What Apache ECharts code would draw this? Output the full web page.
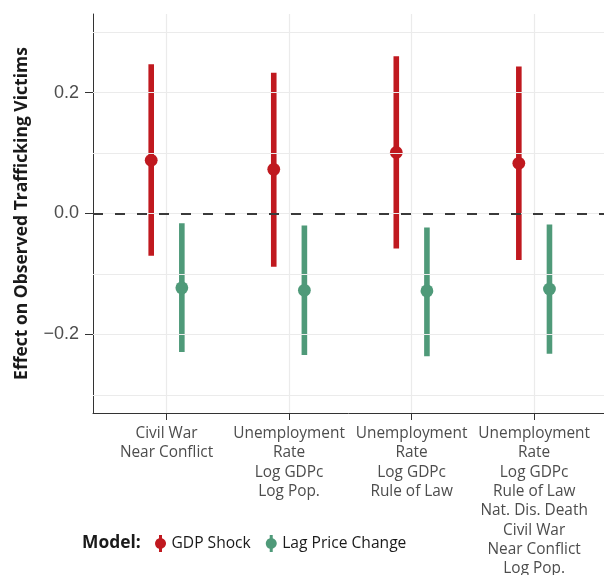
<!DOCTYPE html>
<html>
<head>
<meta charset="utf-8">
<script src="https://cdn.jsdelivr.net/npm/echarts@6/dist/echarts.min.js"></script>
<style>html,body{margin:0;padding:0;background:#fff;}#c{width:604px;height:575px;}</style>
</head>
<body>
<div id="c"></div>
<script>
// ---- data ----
const categories = [
  "Civil War\nNear Conflict",
  "Unemployment\nRate\nLog GDPc\nLog Pop.",
  "Unemployment\nRate\nLog GDPc\nRule of Law",
  "Unemployment\nRate\nLog GDPc\nRule of Law\nNat. Dis. Death\nCivil War\nNear Conflict\nLog Pop."
];
const gdpEst  = [0.088, 0.073, 0.101, 0.083];
const gdpLow  = [-0.070, -0.088, -0.058, -0.077];
const gdpHigh = [0.247, 0.233, 0.260, 0.243];
const lagEst  = [-0.123, -0.127, -0.128, -0.125];
const lagLow  = [-0.229, -0.234, -0.236, -0.232];
const lagHigh = [-0.016, -0.020, -0.023, -0.018];
const yTickLabels = [-0.2, 0, 0.2];
const yGridValues = [-0.3, -0.2, -0.1, 0, 0.1, 0.2, 0.3];
const seriesNames = ["GDP Shock", "Lag Price Change"];

// ---- style ----
const RED = "#C0191F", GREEN = "#4F9A79";
const DODGE = 0.125;
const catPos = categories.map((_, i) => i + 1);

const chart = echarts.init(document.getElementById('c'), null, {renderer: 'canvas'});

function barData(low, high, off) {
  return catPos.map((p, i) => [p + off, low[i], high[i]]);
}
function ptData(est, off) {
  return catPos.map((p, i) => [p + off, est[i]]);
}
function errRender(color) {
  return function (params, api) {
    const a = api.coord([api.value(0), api.value(1)]);
    const b = api.coord([api.value(0), api.value(2)]);
    return {
      type: 'line',
      shape: {x1: a[0], y1: a[1], x2: b[0], y2: b[1]},
      style: {stroke: color, lineWidth: 5.6, lineCap: 'butt'}
    };
  };
}
const icon = 'path://M4.5,0 L7.5,0 L7.5,3.21 A5.5,5.5 0 0 1 7.5,13.79 L7.5,17 L4.5,17 L4.5,13.79 A5.5,5.5 0 0 1 4.5,3.21 Z';

const option = {
  animation: false,
  backgroundColor: '#fff',
  grid: {left: 93, right: 0, top: 14, bottom: 162, containLabel: false, outerBoundsMode: 'none'},
  xAxis: {
    type: 'value', min: 0.4, max: 4.57,
    splitLine: {show: false},
    axisLine: {onZero: false, lineStyle: {color: '#333', width: 1}},
    axisTick: {show: true, customValues: catPos, length: 7, lineStyle: {color: '#333', width: 1}},
    axisLabel: {
      customValues: catPos, margin: 11,
      formatter: v => categories[Math.round(v) - 1],
      color: '#4d4d4d', fontFamily: 'Open Sans', fontSize: 15.4, lineHeight: 19.3, align: 'center'
    }
  },
  yAxis: {
    type: 'value', min: -0.33, max: 0.33,
    splitLine: {show: false},
    axisLine: {show: true, onZero: false, lineStyle: {color: '#333', width: 1}},
    axisTick: {show: true, customValues: yTickLabels, length: 8, lineStyle: {color: '#333', width: 1}},
    axisLabel: {
      customValues: yTickLabels, margin: 14,
      formatter: v => (v < 0 ? '\u2212' : '') + Math.abs(v).toFixed(1),
      color: '#4d4d4d', fontFamily: 'Liberation Sans', fontSize: 18
    },
    name: 'Effect on Observed Trafficking Victims',
    nameLocation: 'middle', nameRotate: 90, nameGap: 62,
    nameTextStyle: {fontFamily: 'Open Sans', fontWeight: 'bold', fontSize: 17.5, color: '#1a1a1a'}
  },
  legend: {
    data: seriesNames.map((n, i) => ({name: n, icon: icon, itemStyle: {color: i ? GREEN : RED}})),
    left: 155, top: 535, padding: 0, itemWidth: 12, itemHeight: 17, itemGap: 15,
    textStyle: {fontFamily: 'Open Sans', fontSize: 15.6, color: '#1a1a1a'},
    selectedMode: false
  },
  graphic: [{
    type: 'text', left: 82, top: 535,
    style: {text: 'Model:', fontFamily: 'Open Sans', fontWeight: 'bold', fontSize: 17.4, fill: '#1a1a1a'}
  }],
  series: [
    {
      type: 'line', data: [], silent: true, z: 0,
      markLine: {
        silent: true, symbol: ['none', 'none'], label: {show: false},
        lineStyle: {color: '#ebebeb', width: 1.2, type: 'solid'},
        data: yGridValues.map(v => ({yAxis: v})).concat(catPos.map(v => ({xAxis: v})))
      }
    },
    {
      type: 'line', data: [], silent: true, z: 1,
      markLine: {
        silent: true, symbol: ['none', 'none'], label: {show: false},
        lineStyle: {color: '#3a3a3a', width: 1.8, type: [10, 12]},
        data: [{yAxis: 0}]
      }
    },
    {name: seriesNames[0], type: 'custom', z: 3, renderItem: errRender(RED), data: barData(gdpLow, gdpHigh, -DODGE), itemStyle: {color: RED}},
    {name: seriesNames[1], type: 'custom', z: 3, renderItem: errRender(GREEN), data: barData(lagLow, lagHigh, DODGE), itemStyle: {color: GREEN}},
    {name: seriesNames[0], type: 'scatter', z: 4, symbolSize: 12.8, data: ptData(gdpEst, -DODGE), itemStyle: {color: RED, opacity: 1}},
    {name: seriesNames[1], type: 'scatter', z: 4, symbolSize: 12.8, data: ptData(lagEst, DODGE), itemStyle: {color: GREEN, opacity: 1}}
  ]
};
chart.setOption(option);
</script>
</body>
</html>
